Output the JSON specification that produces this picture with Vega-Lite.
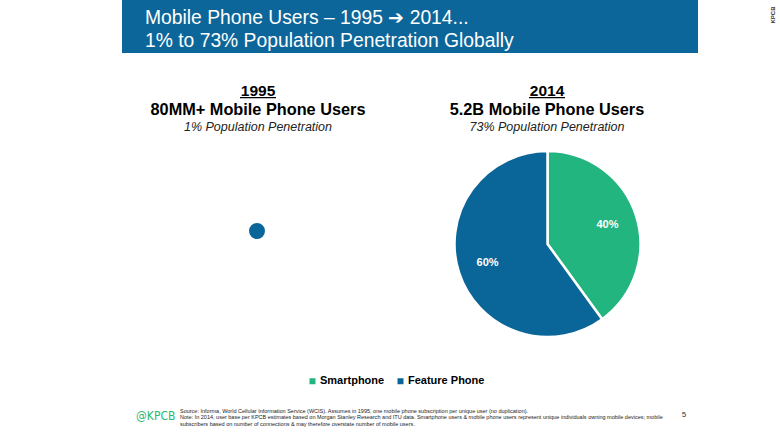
{
  "$schema": "https://vega.github.io/schema/vega-lite/v6.json",
  "width": 780,
  "height": 439,
  "padding": 0,
  "autosize": {"type": "fit", "contains": "padding"},
  "background": "white",
  "config": {
    "view": {"stroke": null},
    "axis": {"disable": true},
    "font": "Liberation Sans"
  },
  "datasets": {
    "share2014": [
      {"type": "Smartphone", "share": 0.40, "rank": 1},
      {"type": "Feature Phone", "share": 0.60, "rank": 2}
    ],
    "users1995": [
      {"year": "1995", "users_m": 80, "penetration": 0.01}
    ],
    "labels": [
      {"id": "banner1", "text": "Mobile Phone Users – 1995 ➔ 2014..."},
      {"id": "banner2", "text": "1% to 73% Population Penetration Globally"},
      {"id": "y1995", "text": "1995"},
      {"id": "u1995", "text": "80MM+ Mobile Phone Users"},
      {"id": "p1995", "text": "1% Population Penetration"},
      {"id": "y2014", "text": "2014"},
      {"id": "u2014", "text": "5.2B Mobile Phone Users"},
      {"id": "p2014", "text": "73% Population Penetration"},
      {"id": "logo", "text": "@KPCB"},
      {"id": "src1", "text": "Source: Informa, World Cellular Information Service (WCIS). Assumes in 1995, one mobile phone subscription per unique user (no duplication)."},
      {"id": "src2", "text": "Note: In 2014, user base per KPCB estimates based on Morgan Stanley Research and ITU data. Smartphone users & mobile phone users represent unique individuals owning mobile devices; mobile"},
      {"id": "src3", "text": "subscribers based on number of connections & may therefore overstate number of mobile users."},
      {"id": "page", "text": "5"},
      {"id": "side", "text": "KPCB"}
    ]
  },
  "layer": [
    {
      "data": {"values": [{"part": "banner"}]},
      "mark": {"type": "rect", "color": "#0d6699"},
      "encoding": {
        "x": {"datum": 122, "type": "quantitative", "scale": {"domain": [0, 780], "nice": false, "zero": false}, "axis": null},
        "x2": {"datum": 698},
        "y": {"datum": 0, "type": "quantitative", "scale": {"domain": [0, 439], "nice": false, "zero": false, "reverse": true}, "axis": null},
        "y2": {"datum": 53}
      }
    },
    {
      "data": {"name": "labels"},
      "transform": [{"filter": "datum.id == 'banner1'"}],
      "mark": {"type": "text", "align": "left", "baseline": "alphabetic", "fontSize": 19.3, "color": "white"},
      "encoding": {"text": {"field": "text"}, "x": {"datum": 145, "type": "quantitative"}, "y": {"datum": 24, "type": "quantitative"}}
    },
    {
      "data": {"name": "labels"},
      "transform": [{"filter": "datum.id == 'banner2'"}],
      "mark": {"type": "text", "align": "left", "baseline": "alphabetic", "fontSize": 19.3, "color": "white"},
      "encoding": {"text": {"field": "text"}, "x": {"datum": 145, "type": "quantitative"}, "y": {"datum": 46.5, "type": "quantitative"}}
    },
    {
      "data": {"name": "labels"},
      "transform": [{"filter": "datum.id == 'y1995'"}],
      "mark": {"type": "text", "align": "center", "baseline": "alphabetic", "fontSize": 15.5, "fontWeight": "bold", "color": "black"},
      "encoding": {"text": {"field": "text"}, "x": {"datum": 258, "type": "quantitative"}, "y": {"datum": 95.5, "type": "quantitative"}}
    },
    {
      "data": {"name": "labels"},
      "transform": [{"filter": "datum.id == 'u1995'"}],
      "mark": {"type": "text", "align": "center", "baseline": "alphabetic", "fontSize": 16.3, "fontWeight": "bold", "color": "black"},
      "encoding": {"text": {"field": "text"}, "x": {"datum": 258, "type": "quantitative"}, "y": {"datum": 114.5, "type": "quantitative"}}
    },
    {
      "data": {"name": "labels"},
      "transform": [{"filter": "datum.id == 'p1995'"}],
      "mark": {"type": "text", "align": "center", "baseline": "alphabetic", "fontSize": 12.5, "fontStyle": "italic", "color": "#222222"},
      "encoding": {"text": {"field": "text"}, "x": {"datum": 258, "type": "quantitative"}, "y": {"datum": 131, "type": "quantitative"}}
    },
    {
      "data": {"name": "labels"},
      "transform": [{"filter": "datum.id == 'y2014'"}],
      "mark": {"type": "text", "align": "center", "baseline": "alphabetic", "fontSize": 15.5, "fontWeight": "bold", "color": "black"},
      "encoding": {"text": {"field": "text"}, "x": {"datum": 547, "type": "quantitative"}, "y": {"datum": 95.5, "type": "quantitative"}}
    },
    {
      "data": {"name": "labels"},
      "transform": [{"filter": "datum.id == 'u2014'"}],
      "mark": {"type": "text", "align": "center", "baseline": "alphabetic", "fontSize": 16.3, "fontWeight": "bold", "color": "black"},
      "encoding": {"text": {"field": "text"}, "x": {"datum": 547, "type": "quantitative"}, "y": {"datum": 114.5, "type": "quantitative"}}
    },
    {
      "data": {"name": "labels"},
      "transform": [{"filter": "datum.id == 'p2014'"}],
      "mark": {"type": "text", "align": "center", "baseline": "alphabetic", "fontSize": 12.5, "fontStyle": "italic", "color": "#222222"},
      "encoding": {"text": {"field": "text"}, "x": {"datum": 547, "type": "quantitative"}, "y": {"datum": 131, "type": "quantitative"}}
    },
    {
      "data": {"values": [{"part": "underline1995"}]},
      "mark": {"type": "rule", "color": "black", "strokeWidth": 1.3},
      "encoding": {"x": {"datum": 240, "type": "quantitative"}, "x2": {"datum": 276}, "y": {"datum": 97.7, "type": "quantitative"}}
    },
    {
      "data": {"values": [{"part": "underline2014"}]},
      "mark": {"type": "rule", "color": "black", "strokeWidth": 1.3},
      "encoding": {"x": {"datum": 529, "type": "quantitative"}, "x2": {"datum": 565}, "y": {"datum": 97.7, "type": "quantitative"}}
    },
    {
      "data": {"name": "users1995"},
      "mark": {"type": "point", "filled": true, "opacity": 1, "color": "#0a6598", "size": 254},
      "encoding": {"x": {"datum": 257, "type": "quantitative"}, "y": {"datum": 231, "type": "quantitative"}}
    },
    {
      "data": {"name": "share2014"},
      "mark": {"type": "arc", "outerRadius": 93, "stroke": "white", "strokeWidth": 2.5},
      "encoding": {
        "x": {"datum": 547.5, "type": "quantitative"},
        "y": {"datum": 244, "type": "quantitative"},
        "theta": {"field": "share", "type": "quantitative", "stack": true},
        "order": {"field": "rank", "type": "quantitative", "sort": "ascending"},
        "color": {
          "field": "type", "type": "nominal",
          "scale": {"domain": ["Smartphone", "Feature Phone"], "range": ["#22b57f", "#0a6598"]},
          "legend": {
            "title": null, "orient": "none", "direction": "horizontal",
            "legendX": 307, "legendY": 375.5, "padding": 0,
            "symbolType": "square", "symbolSize": 36, "symbolStrokeWidth": 0,
            "labelFontSize": 11, "labelFontWeight": "bold", "labelColor": "black",
            "labelOffset": 2, "columnPadding": 10
          }
        }
      }
    },
    {
      "data": {"name": "share2014"},
      "mark": {"type": "text", "radius": 63, "fontSize": 11, "fontWeight": "bold", "color": "white"},
      "encoding": {
        "x": {"datum": 547.5, "type": "quantitative"},
        "y": {"datum": 244, "type": "quantitative"},
        "theta": {"field": "share", "type": "quantitative", "stack": true},
        "order": {"field": "rank", "type": "quantitative", "sort": "ascending"},
        "text": {"field": "share", "type": "quantitative", "format": ".0%"},
        "detail": {"field": "type", "type": "nominal"}
      }
    },
    {
      "data": {"name": "labels"},
      "transform": [{"filter": "datum.id == 'logo'"}],
      "mark": {"type": "text", "align": "left", "baseline": "alphabetic", "fontSize": 12, "font": "DejaVu Sans Condensed, Liberation Sans", "color": "#2bb673"},
      "encoding": {"text": {"field": "text"}, "x": {"datum": 136, "type": "quantitative"}, "y": {"datum": 420, "type": "quantitative"}}
    },
    {
      "data": {"name": "labels"},
      "transform": [{"filter": "datum.id == 'src1'"}],
      "mark": {"type": "text", "align": "left", "baseline": "alphabetic", "fontSize": 5.5, "color": "#222222"},
      "encoding": {"text": {"field": "text"}, "x": {"datum": 180, "type": "quantitative"}, "y": {"datum": 412.5, "type": "quantitative"}}
    },
    {
      "data": {"name": "labels"},
      "transform": [{"filter": "datum.id == 'src2'"}],
      "mark": {"type": "text", "align": "left", "baseline": "alphabetic", "fontSize": 5.5, "color": "#222222"},
      "encoding": {"text": {"field": "text"}, "x": {"datum": 180, "type": "quantitative"}, "y": {"datum": 419, "type": "quantitative"}}
    },
    {
      "data": {"name": "labels"},
      "transform": [{"filter": "datum.id == 'src3'"}],
      "mark": {"type": "text", "align": "left", "baseline": "alphabetic", "fontSize": 5.5, "color": "#222222"},
      "encoding": {"text": {"field": "text"}, "x": {"datum": 180, "type": "quantitative"}, "y": {"datum": 425.5, "type": "quantitative"}}
    },
    {
      "data": {"name": "labels"},
      "transform": [{"filter": "datum.id == 'page'"}],
      "mark": {"type": "text", "align": "center", "baseline": "alphabetic", "fontSize": 8, "color": "#333333"},
      "encoding": {"text": {"field": "text"}, "x": {"datum": 684, "type": "quantitative"}, "y": {"datum": 417, "type": "quantitative"}}
    },
    {
      "data": {"name": "labels"},
      "transform": [{"filter": "datum.id == 'side'"}],
      "mark": {"type": "text", "align": "center", "baseline": "middle", "angle": 270, "fontSize": 6, "fontWeight": "bold", "color": "#333333"},
      "encoding": {"text": {"field": "text"}, "x": {"datum": 773, "type": "quantitative"}, "y": {"datum": 15, "type": "quantitative"}}
    }
  ]
}
